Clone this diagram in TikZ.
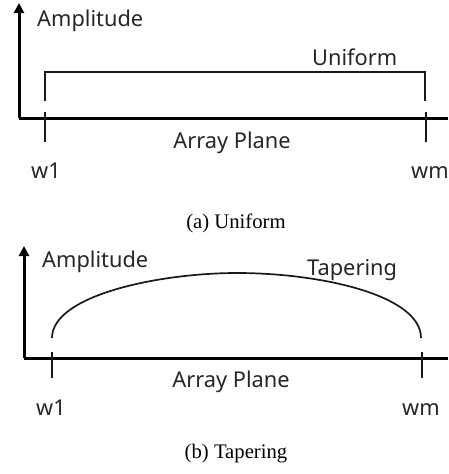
\documentclass[tikz,border=0pt]{standalone}
\usepackage{fontspec}
\setmainfont{Liberation Serif}
\newfontfamily\lblfont{Noto Sans}
\usetikzlibrary{arrows.meta}
\begin{document}
\begin{tikzpicture}[x=1pt,y=-1pt,
  lbl/.style={font=\lblfont\fontsize{21.8}{24}\selectfont, inner sep=0pt, text=black!85, anchor=base},
  captxt/.style={font=\fontsize{20.7}{24}\selectfont, inner sep=0pt, anchor=base},
  axisln/.style={line width=3pt, black},
  thinln/.style={line width=1.7pt, black!90},
  tip/.style={-{Triangle[length=10pt,width=10pt]}}]
\useasboundingbox (0,0) rectangle (448,474);
% ---------- panel (a) ----------
\coordinate (oa) at (19,118);
\coordinate (ya) at (19,3);
\coordinate (xa) at (448,118);
\draw[axisln] (xa) -- (oa);
\draw[axisln,tip] (oa) -- (ya);
\coordinate (ta1t) at (45,112); \coordinate (ta1b) at (45,142);
\coordinate (ta2t) at (426,112); \coordinate (ta2b) at (426,142);
\draw[thinln] (ta1t) -- (ta1b);
\draw[thinln] (ta2t) -- (ta2b);
\coordinate (ua) at (45,101); \coordinate (ub) at (45,72);
\coordinate (uc) at (425,72); \coordinate (ud) at (425,101);
\draw[thinln] (ua) -- (ub) -- (uc) -- (ud);
\node[lbl,anchor=base west] (ampa) at (37,26) {Amplitude};
\node[lbl,anchor=base west] (unif) at (312,65) {Uniform};
\node[lbl] (arra) at (232,148) {Array Plane};
\node[lbl] (w1a) at (46,178) {w1};
\node[lbl] (wma) at (430,178) {wm};
\node[captxt] (capa) at (236,228) {(a) Uniform};
% ---------- panel (b) ----------
\coordinate (ob) at (24,358);
\coordinate (yb) at (24,246);
\coordinate (xb) at (448,358);
\draw[axisln] (xb) -- (ob);
\draw[axisln,tip] (ob) -- (yb);
\coordinate (tb1t) at (52,352); \coordinate (tb1b) at (52,378);
\coordinate (tb2t) at (422,352); \coordinate (tb2b) at (422,378);
\draw[thinln] (tb1t) -- (tb1b);
\draw[thinln] (tb2t) -- (tb2b);
\coordinate (ca) at (52,338); \coordinate (cm) at (237,273); \coordinate (cb) at (421,338);
\draw[thinln] (ca) .. controls (52,295) and (160,273) .. (cm)
  .. controls (320,273) and (421,295) .. (cb);
\node[lbl,anchor=base west] (ampb) at (42,267) {Amplitude};
\node[lbl,anchor=base west] (tap) at (307,275) {Tapering};
\node[lbl] (arrb) at (231,387) {Array Plane};
\node[lbl] (w1b) at (51,415) {w1};
\node[lbl] (wmb) at (421,415) {wm};
\node[captxt] (capb) at (236,458) {(b) Tapering};
\end{tikzpicture}
\end{document}
